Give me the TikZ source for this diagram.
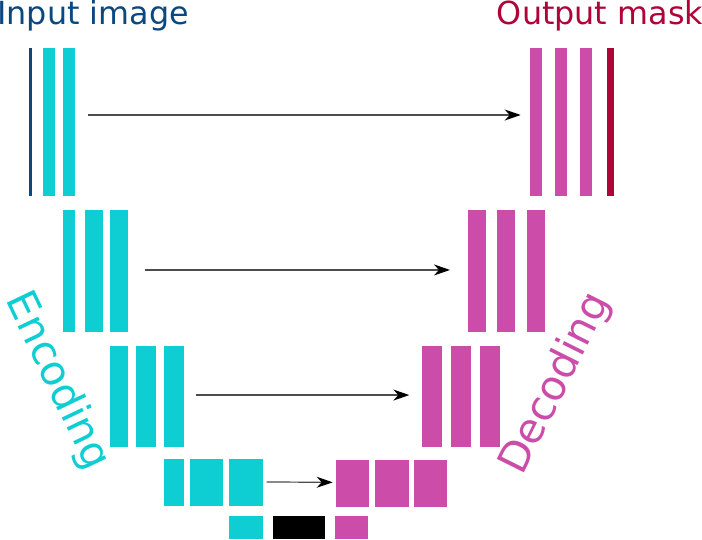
\documentclass[tikz,border=0pt]{standalone}
\usepackage{fontspec}
\setmainfont{DejaVu Sans}
\usetikzlibrary{arrows.meta}
\definecolor{cy}{RGB}{14,206,211}
\definecolor{mg}{RGB}{204,76,170}
\definecolor{inblue}{RGB}{10,72,128}
\definecolor{outred}{RGB}{176,4,56}
\tikzset{
  bar/.style={rectangle, inner sep=0pt, outer sep=0pt, anchor=north west, draw=none},
  arr/.style={black!70, line width=1.2pt, -{Stealth[length=16pt,width=11pt,inset=5pt,black]}},
  lbl/.style={inner sep=0pt, outer sep=0pt, font=\fontsize{31.8}{36}\selectfont}
}
% \barnode{name}{x1}{x2}{y1}{y2}{color}
\newcommand{\barnode}[6]{%
  \pgfmathsetmacro{\bw}{#3-#2}\pgfmathsetmacro{\bh}{#5-#4}%
  \node[bar, fill=#6, minimum width=\bw pt, minimum height=\bh pt] (#1) at (#2,#4) {};}
\begin{document}
\begin{tikzpicture}[x=1pt,y=-1pt]
\useasboundingbox (0,0) rectangle (702,539);
% labels
\node[lbl, text=inblue, anchor=base west] (tin) at (-2.7,24) {Input image};
\node[lbl, text=outred, anchor=base east] (tout) at (703,24) {Output mask};
\node[lbl, text=cy, rotate=-64.5, font=\fontsize{41.5}{46}\selectfont] (enc) at (57,381) {Encoding};
\node[lbl, text=mg, rotate=63.5, font=\fontsize{41.5}{46}\selectfont] (dec) at (556,384) {Decoding};
% level 1
\barnode{in1a}{28.5}{31.5}{47.7}{195.7}{inblue}
\barnode{in1b}{43.3}{55.3}{47.7}{195.7}{cy}
\barnode{in1c}{63.3}{75.3}{47.7}{195.7}{cy}
\barnode{out1a}{530}{542}{47.7}{195.7}{mg}
\barnode{out1b}{554.7}{567}{47.7}{195.7}{mg}
\barnode{out1c}{579.7}{591.7}{47.7}{195.7}{mg}
\barnode{out1d}{607.3}{613.7}{47.7}{195.7}{outred}
% level 2
\barnode{in2a}{63}{75}{210.3}{332}{cy}
\barnode{in2b}{85.3}{103}{210.3}{332}{cy}
\barnode{in2c}{110.3}{128}{210.3}{332}{cy}
\barnode{out2a}{467.7}{485.7}{210.3}{332}{mg}
\barnode{out2b}{497.3}{515.3}{210.3}{332}{mg}
\barnode{out2c}{527}{544.7}{210.3}{332}{mg}
% level 3
\barnode{in3a}{110}{127.7}{346}{447.3}{cy}
\barnode{in3b}{136.3}{156.3}{346}{447.3}{cy}
\barnode{in3c}{163.7}{184}{346}{447.3}{cy}
\barnode{out3a}{422}{442.3}{346}{447.3}{mg}
\barnode{out3b}{451}{471}{346}{447.3}{mg}
\barnode{out3c}{480}{500.3}{346}{447.3}{mg}
% level 4
\barnode{in4a}{163.7}{184}{459.3}{506}{cy}
\barnode{in4b}{190.3}{223.3}{459.3}{506}{cy}
\barnode{in4c}{229.3}{262.7}{459.3}{506}{cy}
\barnode{out4a}{336}{369.3}{460}{506.7}{mg}
\barnode{out4b}{375.3}{408.7}{460}{506.7}{mg}
\barnode{out4c}{414.3}{447.3}{460}{506.7}{mg}
% bottleneck
\barnode{b1}{229.3}{262.7}{516}{539}{cy}
\barnode{b2}{272.7}{325.3}{516}{539}{black}
\barnode{b3}{335}{368.3}{516}{539}{mg}
% skip arrows
\draw[arr] ([xshift=12.7pt,yshift=6.7pt]in1c.east) -- ([xshift=-9.3pt,yshift=6.7pt]out1a.west);
\draw[arr] ([xshift=16.7pt,yshift=1.2pt]in2c.east) -- ([xshift=-17.7pt,yshift=1.2pt]out2a.west);
\draw[arr] ([xshift=12pt,yshift=1.6pt]in3c.east) -- ([xshift=-12.7pt,yshift=1.6pt]out3a.west);
\draw[arr] ([xshift=4pt,yshift=0.7pt]in4c.east) -- ([xshift=-3.3pt,yshift=1pt]out4a.west);
\end{tikzpicture}
\end{document}
